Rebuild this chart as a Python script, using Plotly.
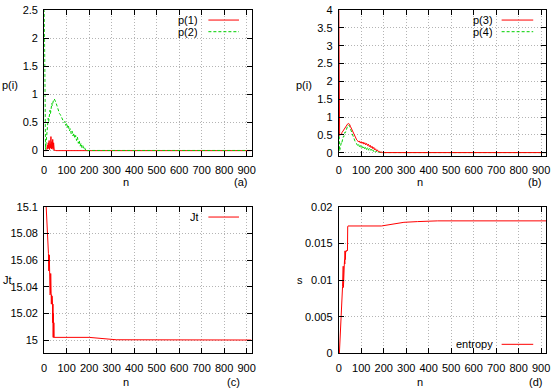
import plotly.graph_objects as go

# ---- data ----
n_ab = [0, 3, 6, 8, 10, 12, 14, 16, 18, 20, 22, 24, 26, 28, 30, 32, 34, 36, 38, 40,
        42, 45, 48, 52, 56, 60, 64, 68, 72, 76, 80, 84, 88, 92, 96, 100, 104, 108, 112, 116,
        120, 124, 128, 132, 136, 140, 144, 148, 152, 156, 160, 164, 168, 172, 176, 180, 184, 188, 192, 200,
        300, 400, 500, 600, 700, 800, 922]
p1 = [0, 0, 0, 0, 0, 0.02, 0.1, 0.03, 0.14, 0.04, 0.18, 0.02, 0.12, 0.05, 0.25, 0.03, 0.16, 0.04, 0.2, 0.02,
      0.14, 0.0, 0.01, 0, 0, 0, 0, 0, 0, 0, 0, 0, 0, 0, 0, 0, 0, 0, 0, 0,
      0, 0, 0, 0, 0, 0, 0, 0, 0, 0, 0, 0, 0, 0, 0, 0, 0, 0, 0, 0,
      0, 0, 0, 0, 0, 0, 0]
p2 = [2.7, 1.0, 0.02, 0.12, 0.25, 0.4, 0.5, 0.45, 0.58, 0.52, 0.65, 0.6, 0.72, 0.66, 0.78, 0.72, 0.84, 0.8, 0.88, 0.85,
      0.91, 0.92, 0.9, 0.86, 0.81, 0.75, 0.72, 0.66, 0.64, 0.6, 0.57, 0.55, 0.5, 0.52, 0.45, 0.49, 0.41, 0.44, 0.35, 0.39,
      0.3, 0.35, 0.26, 0.31, 0.22, 0.27, 0.18, 0.24, 0.13, 0.18, 0.08, 0.13, 0.05, 0.09, 0.03, 0.05, 0.01, 0.02, 0.0, 0.003,
      0.003, 0.003, 0.003, 0.003, 0.003, 0.003, 0.003]

n_b = [0, 2, 4, 6, 8, 10, 12, 14, 16, 18, 20, 22, 24, 26, 28, 30, 32, 34, 36, 38,
       40, 44, 48, 52, 56, 60, 64, 68, 72, 76, 80, 84, 88, 92, 96, 100, 104, 108, 112, 116,
       120, 124, 128, 132, 136, 140, 144, 148, 152, 156, 160, 164, 168, 172, 176, 180, 184, 188, 192, 196,
       200, 300, 400, 500, 600, 700, 800, 922]
p3 = [4.6, 0.5, 0.48, 0.52, 0.5, 0.52, 0.5, 0.56, 0.58, 0.6, 0.63, 0.64, 0.67, 0.69, 0.71, 0.73, 0.75, 0.77, 0.78, 0.8,
      0.81, 0.82, 0.8, 0.74, 0.68, 0.62, 0.56, 0.5, 0.45, 0.4, 0.36, 0.34, 0.3, 0.33, 0.27, 0.31, 0.26, 0.3, 0.24, 0.28,
      0.22, 0.26, 0.2, 0.24, 0.17, 0.21, 0.14, 0.18, 0.11, 0.15, 0.08, 0.11, 0.05, 0.08, 0.03, 0.04, 0.01, 0.02, 0.0, 0.005,
      0.003, 0.003, 0.003, 0.003, 0.003, 0.003, 0.003, 0.003]
p4 = [0.6, 0.55, 0.05, 0.12, 0.2, 0.18, 0.3, 0.28, 0.38, 0.36, 0.45, 0.44, 0.52, 0.5, 0.58, 0.57, 0.63, 0.65, 0.7, 0.72,
      0.75, 0.78, 0.74, 0.66, 0.6, 0.52, 0.46, 0.38, 0.33, 0.27, 0.25, 0.2, 0.24, 0.17, 0.22, 0.15, 0.2, 0.13, 0.18, 0.11,
      0.16, 0.09, 0.14, 0.07, 0.12, 0.06, 0.1, 0.04, 0.08, 0.03, 0.06, 0.02, 0.04, 0.01, 0.03, 0.005, 0.015, 0.0, 0.005, 0.0,
      0.003, 0.003, 0.003, 0.003, 0.003, 0.003, 0.003, 0.003]

n_c = [0, 9, 19, 20, 21, 22, 23, 24, 25, 26, 27, 28, 29, 30, 31, 32, 33, 34, 35, 36,
       37, 38, 39, 40, 41, 42, 43, 44, 200, 240, 280, 320, 922]
jt = [15.15, 15.1, 15.065, 15.052, 15.065, 15.053, 15.064, 15.052, 15.052, 15.034, 15.052, 15.035, 15.05, 15.034,
      15.034, 15.027, 15.034, 15.027, 15.033, 15.027, 15.027, 15.013, 15.027, 15.002, 15.02, 15.002, 15.013, 15.002,
      15.002, 15.0015, 15.0005, 15.0002, 15.0]

n_d = [0, 3, 17, 20, 21, 22, 23, 24, 25, 26, 27, 28, 29, 30, 31, 32, 33, 34, 35, 36,
       37, 38, 39, 40, 41, 190, 240, 290, 350, 440, 922]
entropy = [0, 0, 0.0091, 0.0119, 0.009, 0.0122, 0.0092, 0.012, 0.0122, 0.0128, 0.0122, 0.014, 0.0128, 0.014,
           0.0139, 0.014, 0.0139, 0.014, 0.014, 0.0141, 0.014, 0.014, 0.0141, 0.0173, 0.0174, 0.0174, 0.0177,
           0.0179, 0.018, 0.0181, 0.0181]

x_ticks = [0, 100, 200, 300, 400, 500, 600, 700, 800, 900]
ya_ticks = [0, 0.5, 1, 1.5, 2, 2.5]
yb_ticks = [0, 0.5, 1, 1.5, 2, 2.5, 3, 3.5, 4]
yc_ticks = [15, 15.02, 15.04, 15.06, 15.08, 15.1]
yc_text = ["15", "15.02", "15.04", "15.06", "15.08", "15.1"]
yd_ticks = [0, 0.005, 0.01, 0.015, 0.02]
yd_text = ["0", "0.005", "0.01", "0.015", "0.02"]

RED = "#ff0000"
GREEN = "#00d000"
FONT = "Liberation Sans"
W, H = 555, 392

fig = go.Figure()
fig.add_trace(go.Scatter(x=n_ab, y=p1, mode="lines", line=dict(color=RED, width=1), xaxis="x", yaxis="y"))
fig.add_trace(go.Scatter(x=n_ab, y=p2, mode="lines", line=dict(color=GREEN, width=1, dash="3px,2px"), xaxis="x", yaxis="y"))
fig.add_trace(go.Scatter(x=n_b, y=p4, mode="lines", line=dict(color=GREEN, width=1, dash="3px,2px"), xaxis="x2", yaxis="y2"))
fig.add_trace(go.Scatter(x=n_b, y=p3, mode="lines", line=dict(color=RED, width=1), xaxis="x2", yaxis="y2"))
fig.add_trace(go.Scatter(x=n_c, y=jt, mode="lines", line=dict(color=RED, width=1), xaxis="x3", yaxis="y3"))
fig.add_trace(go.Scatter(x=n_d, y=entropy, mode="lines", line=dict(color=RED, width=1), xaxis="x4", yaxis="y4"))

# panel boxes in pixels: (left, right, top, bottom)
boxes = [(41.7, 251.7, 4.3, 155), (340, 550, 4.3, 155), (41.7, 251.7, 207.3, 358.3), (340, 550, 207.3, 358.3)]
yranges = [[-0.1, 2.5], [-0.1, 4], [14.99, 15.1], [0, 0.02]]
yticks = [(ya_ticks, None), (yb_ticks, None), (yc_ticks, yc_text), (yd_ticks, yd_text)]

axis_common = dict(showline=True, linecolor="black", linewidth=1, mirror="allticks",
                   ticks="inside", ticklen=5, tickcolor="black", tickwidth=1,
                   showgrid=True, gridcolor="#b4b4b4", griddash="1px,2px", gridwidth=1,
                   zeroline=False, tickfont=dict(family=FONT, size=11, color="black"))

layout_axes = {}
for i, ((l, r, t, b), yr, (tv, tt)) in enumerate(zip(boxes, yranges, yticks)):
    sx = "" if i == 0 else str(i + 1)
    layout_axes["xaxis" + sx] = dict(axis_common, domain=[l / W, r / W], range=[0, 922],
                                     tickvals=x_ticks, anchor="y" + sx, ticklabelstandoff=4)
    yax = dict(axis_common, domain=[1 - b / H, 1 - t / H], range=yr, tickvals=tv,
               anchor="x" + sx, ticklabelstandoff=3)
    if tt is not None:
        yax["ticktext"] = tt
    layout_axes["yaxis" + sx] = yax

fig.update_layout(**layout_axes)

# axis titles and panel tags
labels = [("p(i)", 7, 81), ("n", 125, 182), ("(a)", 240.7, 182),
          ("p(i)", 305, 81), ("n", 422.7, 182), ("(b)", 538, 182),
          ("Jt", 4.5, 283), ("n", 125, 387.5), ("(c)", 233, 387.5),
          ("s", 301, 283), ("n", 422.7, 387.5), ("(d)", 539, 387.5)]
for txt, x, y in labels:
    fig.add_annotation(text=txt, x=x / W, y=1 - y / H, xref="paper", yref="paper",
                       showarrow=False, xanchor="center", yanchor="middle",
                       font=dict(family=FONT, size=11, color="black"))

# gnuplot-style keys: text then sample line
keys = [("p(1)", 200, 14.5, 208, 239, RED, "solid"),
        ("p(2)", 200, 26.5, 208, 239, GREEN, "3px,2px"),
        ("p(3)", 498, 14.5, 505, 537, RED, "solid"),
        ("p(4)", 498, 26.5, 505, 537, GREEN, "3px,2px"),
        ("Jt", 201, 217.7, 208, 239, RED, "solid"),
        ("entropy", 498, 349, 505, 537, RED, "solid")]
for txt, tx, ty, x0, x1, col, dash in keys:
    fig.add_annotation(text=txt, x=tx / W, y=1 - ty / H, xref="paper", yref="paper",
                       showarrow=False, xanchor="right", yanchor="middle", height=12,
                       font=dict(family=FONT, size=11, color="black"))
    fig.add_shape(type="line", xref="paper", yref="paper", x0=x0 / W, x1=x1 / W,
                  y0=1 - ty / H, y1=1 - ty / H, line=dict(color=col, width=1, dash=dash))

fig.update_layout(width=W, height=H, margin=dict(l=0, r=0, t=0, b=0),
                  paper_bgcolor="white", plot_bgcolor="white", showlegend=False,
                  font=dict(family=FONT, size=11, color="black"))

# drop the browser's default 8px body margin so the figure sits at the window corner
fig.write_html("out.html", config={"displayModeBar": False},
               post_script="document.body.style.margin='0';")
